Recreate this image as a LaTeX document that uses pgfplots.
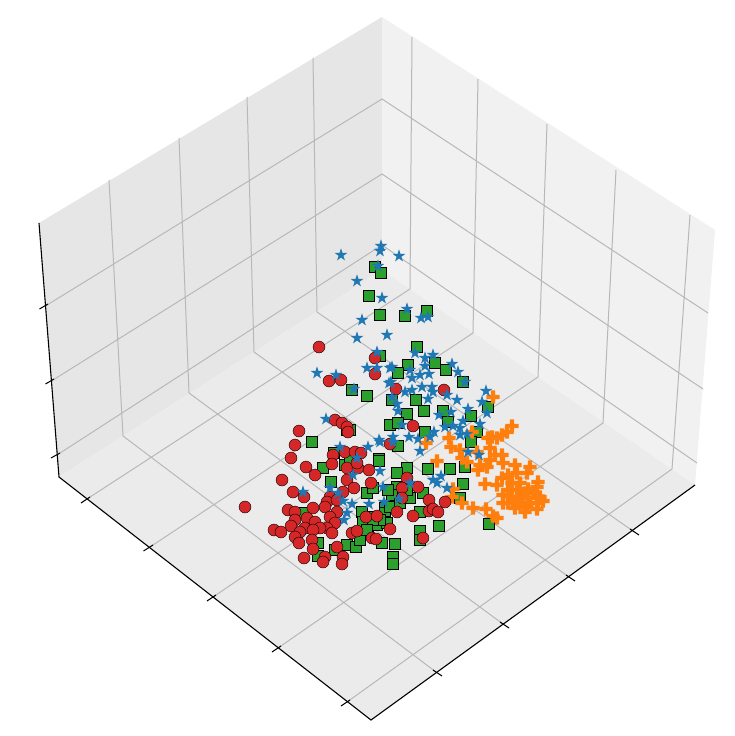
\documentclass[border=0pt]{standalone}
\usepackage{pgfplots}
\pgfplotsset{compat=1.18}
\definecolor{tabblue}{HTML}{1F77B4}
\definecolor{taborange}{HTML}{FF7F0E}
\definecolor{tabgreen}{HTML}{2CA02C}
\definecolor{tabred}{HTML}{D62728}
\definecolor{paneleft}{HTML}{E6E6E6}
\definecolor{paneright}{HTML}{F1F1F1}
\definecolor{panefloor}{HTML}{EBEBEB}
\definecolor{gridgray}{HTML}{B8B8B8}
% filled five point star and filled plus, the markers * and P
\pgfdeclareplotmark{fstar}{%
  \pgfpathmoveto{\pgfqpoint{0pt}{1.0\pgfplotmarksize}}%
  \pgfpathlineto{\pgfqpoint{0.225\pgfplotmarksize}{0.309\pgfplotmarksize}}%
  \pgfpathlineto{\pgfqpoint{0.951\pgfplotmarksize}{0.309\pgfplotmarksize}}%
  \pgfpathlineto{\pgfqpoint{0.363\pgfplotmarksize}{-0.118\pgfplotmarksize}}%
  \pgfpathlineto{\pgfqpoint{0.588\pgfplotmarksize}{-0.809\pgfplotmarksize}}%
  \pgfpathlineto{\pgfqpoint{0pt}{-0.382\pgfplotmarksize}}%
  \pgfpathlineto{\pgfqpoint{-0.588\pgfplotmarksize}{-0.809\pgfplotmarksize}}%
  \pgfpathlineto{\pgfqpoint{-0.363\pgfplotmarksize}{-0.118\pgfplotmarksize}}%
  \pgfpathlineto{\pgfqpoint{-0.951\pgfplotmarksize}{0.309\pgfplotmarksize}}%
  \pgfpathlineto{\pgfqpoint{-0.225\pgfplotmarksize}{0.309\pgfplotmarksize}}%
  \pgfpathclose\pgfusepathqfill}
\pgfdeclareplotmark{fplus}{%
  \pgfpathmoveto{\pgfqpoint{-0.33\pgfplotmarksize}{1.0\pgfplotmarksize}}%
  \pgfpathlineto{\pgfqpoint{0.33\pgfplotmarksize}{1.0\pgfplotmarksize}}%
  \pgfpathlineto{\pgfqpoint{0.33\pgfplotmarksize}{0.33\pgfplotmarksize}}%
  \pgfpathlineto{\pgfqpoint{1.0\pgfplotmarksize}{0.33\pgfplotmarksize}}%
  \pgfpathlineto{\pgfqpoint{1.0\pgfplotmarksize}{-0.33\pgfplotmarksize}}%
  \pgfpathlineto{\pgfqpoint{0.33\pgfplotmarksize}{-0.33\pgfplotmarksize}}%
  \pgfpathlineto{\pgfqpoint{0.33\pgfplotmarksize}{-1.0\pgfplotmarksize}}%
  \pgfpathlineto{\pgfqpoint{-0.33\pgfplotmarksize}{-1.0\pgfplotmarksize}}%
  \pgfpathlineto{\pgfqpoint{-0.33\pgfplotmarksize}{-0.33\pgfplotmarksize}}%
  \pgfpathlineto{\pgfqpoint{-1.0\pgfplotmarksize}{-0.33\pgfplotmarksize}}%
  \pgfpathlineto{\pgfqpoint{-1.0\pgfplotmarksize}{0.33\pgfplotmarksize}}%
  \pgfpathlineto{\pgfqpoint{-0.33\pgfplotmarksize}{0.33\pgfplotmarksize}}%
  \pgfpathclose\pgfusepathqfill}
\begin{document}
\begin{tikzpicture}
\begin{axis}[
    scale only axis,
    width=735pt, height=736pt,
    xmin=0, xmax=735,
    ymin=0, ymax=736,
    y dir=reverse,
    hide axis,
    unbounded coords=jump,
    clip=true,
]
% page background, keeps the picture at full size
\addplot[fill=white, draw=none] coordinates {(0,0)(735,0)(735,736)(0,736)} -- cycle;
% panes
\addplot[fill=paneleft, draw=none] coordinates {(39,223)(59,477)(382,270)(382,17)} -- cycle;
\addplot[fill=paneright, draw=none] coordinates {(382,17)(382,270)(695,485)(715,230)} -- cycle;
\addplot[fill=panefloor, draw=none] coordinates {(59,477)(371,720)(695,485)(382,270)} -- cycle;
% grid
\addplot[gridgray, line width=1pt] coordinates {
  (109,180)(123,436) (0,nan) (179,138)(189,393) (0,nan) (247,97)(254,352) (0,nan) (313,58)(317,312) (0,nan)
  (412,37)(410,289) (0,nan) (478,79)(473,333) (0,nan) (547,124)(538,377) (0,nan) (616,170)(603,423) (0,nan) (690,215)(672,469) (0,nan)
  (45.4,306)(382,99)(708,313) (0,nan) (51.4,381)(382,174)(703,389) (0,nan) (57,455)(382,245)(697,463) (0,nan)
  (87,499)(410,289) (0,nan) (150,547)(473,333) (0,nan) (213,597)(538,377) (0,nan) (278,648)(603,423) (0,nan) (347,702)(672,469) (0,nan)
  (123,436)(436,672) (0,nan) (189,393)(503,624) (0,nan) (254,352)(569,577) (0,nan) (317,312)(633,531)
};
% axis edges and ticks
\addplot[black, line width=1.1pt] coordinates {(39,223)(59,477)(371,720)(695,485)};
\addplot[black, line width=1pt] coordinates {
  (48,304)(39.5,309) (0,nan) (54,379)(45.5,384) (0,nan) (60,453)(51,458) (0,nan)
  (90,497)(81,503) (0,nan) (153,545)(143.5,551) (0,nan) (216,595)(207,601) (0,nan) (281,646)(272,652) (0,nan) (350,700)(341,706) (0,nan)
  (433,670)(442,676) (0,nan) (500,622)(509,628) (0,nan) (566,575)(575,581) (0,nan) (630,529)(639,535)
};
% class 2, squares
\addplot[only marks, mark=square*, mark size=5.6pt, mark options={fill=tabgreen, draw=none}] coordinates {
(375,267)(381,273)(369,296)(380,315)(380,356)(352,390)(367,396)
(405,316)(427,311)
(417,347)(435,363)(408,365)(398,373)(446,370)(463,382)(416,400)(392,400)(424,411)(407,414)
(443,411)(488,407)(448,422)(471,416)(390,425)(398,423)(425,432)(477,432)(471,442)(398,446)
(379,459)(350,430)(347,430)
(428,469)(450,469)(407,468)(397,473)(465,467)(463,484)(460,498)(439,526)(489,524)
(420,531)(420,540)(420,512)(410,498)(397,487)(392,495)(385,508)(385,513)(385,522)(395,544)
(312,442)(334,453)(379,461)(323,468)(345,465)(350,460)(331,482)
(367,493)(373,488)(305,513)(362,512)(318,543)(318,556)(335,550)(347,545)(356,547)(360,540)
(368,530)(363,522)(377,525)(387,523)(382,543)(370,517)(390,507)(388,490)
(393,557)(393,564)(400,503)(423,493)(380,520)(373,520)(367,530)(407,490)
};
% class 1, plus
\addplot[only marks, mark=fplus, mark size=6.6pt, mark options={fill=taborange, draw=none}] coordinates {
(493,397)(512,426)(507,432)(502,435)(492,437)(497,438)(488,438)(490,448)(472,432)(449,438)
(451,447)(426,443)(460,450)(462,458)(467,462)(477,452)(502,455)(495,455)(490,460)(503,463)
(480,465)(487,467)(478,470)(437,461)(515,465)(530,467)(517,473)(527,473)(538,482)(485,484)
(497,485)(502,478)(508,475)(453,489)(452,497)(462,503)(473,508)(486,509)(493,516)(497,518)
(512,483)(520,483)(528,489)(537,487)(508,490)(517,490)(525,493)(533,493)(540,497)(503,495)
(512,497)(520,497)(528,498)(537,498)(543,501)(503,503)(513,503)(522,503)(530,503)(538,503)
(515,508)(525,512)(537,509)(527,507)(518,500)(508,503)
};
% class 3, circles
\addplot[only marks, mark=*, mark size=6pt, mark options={fill=tabred, draw=none}] coordinates {
(319,347)(375,358)(375,374)(329,381)(341,380)(396,389)(444,390)(413,426)(390,444)
(245,507)(299,431)(295,445)(291,458)(306,467)(315,475)(282,480)(293,492)(304,497)
(335,420)(342,423)(347,427)(348,432)(333,455)(345,452)(355,452)(361,453)(332,464)(347,468)
(358,468)(357,463)(369,470)(347,480)(371,483)(354,488)(343,492)(330,497)(327,502)(325,507)
(337,500)(313,508)(288,510)(295,512)(337,512)(330,517)(307,518)(295,520)(291,526)(315,522)
(305,528)(335,523)(327,528)(320,528)(313,530)(300,532)(332,533)(274,530)(281,532)(295,537)
(299,543)(312,540)(313,549)(337,547)(304,558)(325,557)(323,562)(343,557)(342,564)
(366,517)(377,516)(352,533)(357,531)(372,538)(376,539)(390,529)(423,538)
(407,478)(402,488)(418,487)(402,498)(429,500)(445,502)(397,512)(413,516)(429,511)(433,509)(438,512)
};
% class 0, stars
\addplot[only marks, mark=fstar, mark size=6.6pt, mark options={fill=tabblue, draw=none}] coordinates {
(341,255)(381,246)(380,251)(378,266)(357,281)(382,298)(362,320)(357,338)(387,335)(377,352)
(367,368)(377,368)(390,368)(317,373)(336,375)(389,383)(354,389)(399,256)(407,309)(421,318)(428,317)
(415,353)(425,358)(433,355)(452,364)(458,372)(465,382)(392,367)(410,370)(425,366)(420,375)
(429,374)(412,378)(391,382)(412,390)(422,387)(432,387)(433,392)(405,392)(392,397)(397,404)
(398,411)(428,399)(447,395)(457,400)(486,391)(482,402)(487,413)(439,415)(451,412)(468,409)
(402,425)(463,421)(480,424)(445,427)(453,426)(460,428)(460,435)(467,434)(434,432)(430,437)
(409,437)(418,439)(393,437)(393,442)(420,451)(468,452)(479,455)(433,480)(441,476)(437,483)
(447,488)(410,483)(383,487)(399,499)(384,502)(380,442)
(326,419)(340,447)(368,447)(379,440)(357,458)(353,475)(380,471)(303,492)(330,488)
(338,493)(343,501)(352,504)(369,504)(347,513)(344,520)
};
\end{axis}
\end{tikzpicture}
\end{document}
